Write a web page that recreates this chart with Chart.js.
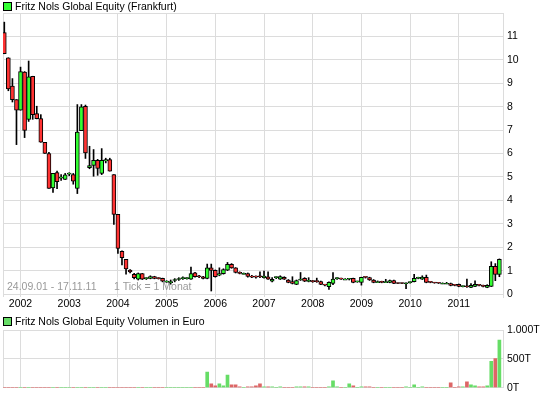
<!DOCTYPE html>
<html>
<head>
<meta charset="utf-8">
<script src="https://cdn.jsdelivr.net/npm/chart.js@4.4.0/dist/chart.umd.min.js"></script>
<style>
  body { margin: 0; background: #fff; }
  #wrap { position: relative; width: 545px; height: 398px; overflow: hidden; font-family: 'Liberation Sans', Arial, sans-serif; }
  canvas { position: absolute; left: 0; }
  #price { top: 0; }
  #vol { top: 315px; }
  .box { position: absolute; left: 3px; width: 7px; height: 7px; border: 1px solid #000; z-index: 2; }
  .leg { position: absolute; left: 15px; font-size: 10.5px; line-height: 12px; color: #000; white-space: nowrap; z-index: 2; }
</style>
</head>
<body>
<div id="wrap">
  <canvas id="price" width="545" height="315"></canvas>
  <canvas id="vol" width="545" height="83"></canvas>
  <span class="box" style="top:2px;background:#33ff33"></span>
  <span class="leg" style="top:0">Fritz Nols Global Equity (Frankfurt)</span>
  <span class="box" style="top:317px;background:#66dd66"></span>
  <span class="leg" style="top:315px">Fritz Nols Global Equity Volumen in Euro</span>
</div>
<script>
// monthly candles, Sep 2001 .. Nov 2011 (index 0 = Sep 2001)
const opens = [
  11.16, 10.09, 8.88, 8.30,
  7.85, 9.48, 7.46, 9.30, 7.71, 7.49, 6.48, 6.00, 4.53, 5.19, 4.95, 4.89,
  5.12, 5.10, 4.51, 6.98, 8.02, 5.40, 5.49, 5.71, 5.15, 5.68, 5.74, 5.10,
  3.40, 1.82, 1.48, 1.02, 0.84, 0.64, 0.87, 0.66, 0.67, 0.75, 0.67, 0.67,
  0.55, 0.53, 0.58, 0.62, 0.66, 0.66, 0.64, 0.91, 0.75, 0.74, 0.67, 1.12,
  1.01, 0.81, 0.87, 1.02, 1.27, 1.12, 0.92, 0.88, 0.87, 0.73, 0.73, 0.75,
  0.70, 0.74, 0.55, 0.70, 0.64, 0.71, 0.60, 0.53, 0.41, 0.60, 0.67, 0.54,
  0.54, 0.54, 0.53, 0.39, 0.31, 0.45, 0.66, 0.65, 0.64, 0.63, 0.67, 0.52,
  0.50, 0.72, 0.70, 0.60, 0.53, 0.51, 0.53, 0.50, 0.58, 0.46, 0.46, 0.44,
  0.49, 0.53, 0.67, 0.64, 0.71, 0.51, 0.48, 0.47, 0.46, 0.46, 0.45, 0.38,
  0.41, 0.32, 0.33, 0.28, 0.33, 0.38, 0.34, 0.28, 0.33, 1.18, 0.84
];
const highs = [
  11.61, 10.09, 9.20, 8.30,
  9.69, 9.50, 9.95, 9.30, 8.02, 7.66, 6.48, 6.05, 5.15, 5.25, 5.10, 5.15,
  5.18, 5.15, 8.09, 8.09, 8.07, 6.31, 6.17, 5.75, 6.21, 5.80, 5.80, 5.10,
  3.40, 1.85, 1.48, 1.05, 0.88, 0.90, 0.88, 0.70, 0.78, 0.76, 0.70, 0.68,
  0.57, 0.60, 0.66, 0.70, 0.74, 0.70, 1.15, 0.93, 0.80, 0.76, 1.28, 1.28,
  1.03, 1.12, 1.08, 1.35, 1.30, 1.13, 0.95, 0.90, 0.90, 0.80, 0.78, 0.95,
  0.98, 0.95, 0.70, 0.74, 0.78, 0.74, 0.62, 0.74, 0.60, 0.92, 0.70, 0.70,
  0.58, 0.68, 0.55, 0.42, 0.52, 0.92, 0.70, 0.68, 0.66, 0.67, 0.68, 0.55,
  0.72, 0.74, 0.72, 0.62, 0.56, 0.55, 0.63, 0.60, 0.60, 0.48, 0.48, 0.48,
  0.52, 0.84, 0.72, 0.78, 0.81, 0.53, 0.50, 0.49, 0.48, 0.50, 0.47, 0.40,
  0.43, 0.35, 0.64, 0.45, 0.56, 0.40, 0.38, 0.40, 1.38, 1.30, 1.50
];
const lows = [
  10.26, 8.68, 8.20, 6.38,
  7.85, 6.68, 7.37, 7.46, 7.48, 6.48, 6.00, 4.51, 4.34, 4.50, 4.85, 4.89,
  5.05, 4.69, 4.29, 6.98, 5.79, 5.35, 5.03, 5.07, 5.10, 5.60, 5.25, 2.97,
  1.74, 1.24, 0.85, 0.90, 0.65, 0.60, 0.62, 0.62, 0.65, 0.65, 0.64, 0.52,
  0.50, 0.42, 0.52, 0.58, 0.62, 0.63, 0.62, 0.72, 0.70, 0.65, 0.65, 0.13,
  0.72, 0.78, 0.85, 1.00, 1.10, 0.90, 0.86, 0.85, 0.72, 0.70, 0.68, 0.70,
  0.68, 0.62, 0.52, 0.66, 0.62, 0.62, 0.48, 0.43, 0.40, 0.58, 0.53, 0.52,
  0.50, 0.50, 0.40, 0.35, 0.20, 0.40, 0.62, 0.62, 0.62, 0.60, 0.48, 0.50,
  0.38, 0.68, 0.58, 0.48, 0.50, 0.48, 0.50, 0.48, 0.44, 0.44, 0.44, 0.23,
  0.46, 0.52, 0.65, 0.62, 0.48, 0.48, 0.46, 0.45, 0.44, 0.44, 0.35, 0.35,
  0.31, 0.30, 0.28, 0.27, 0.32, 0.35, 0.30, 0.27, 0.32, 0.57, 0.74
];
const closes = [
  10.26, 8.76, 8.30, 7.85,
  9.50, 6.99, 9.27, 7.66, 7.49, 6.48, 6.00, 4.51, 5.15, 4.80, 4.98, 5.09,
  5.14, 4.82, 6.92, 7.99, 6.03, 5.49, 5.71, 5.36, 5.71, 5.74, 5.25, 3.40,
  1.95, 1.55, 1.07, 0.95, 0.70, 0.87, 0.64, 0.67, 0.75, 0.67, 0.66, 0.55,
  0.55, 0.53, 0.60, 0.64, 0.67, 0.67, 0.87, 0.74, 0.74, 0.67, 1.12, 1.01,
  0.74, 0.87, 1.05, 1.27, 1.12, 0.92, 0.88, 0.88, 0.75, 0.72, 0.72, 0.74,
  0.77, 0.64, 0.63, 0.71, 0.75, 0.64, 0.50, 0.45, 0.57, 0.62, 0.55, 0.56,
  0.53, 0.53, 0.41, 0.38, 0.50, 0.64, 0.67, 0.64, 0.64, 0.64, 0.50, 0.53,
  0.71, 0.71, 0.60, 0.50, 0.53, 0.50, 0.53, 0.58, 0.45, 0.45, 0.45, 0.46,
  0.50, 0.67, 0.70, 0.72, 0.50, 0.50, 0.47, 0.46, 0.46, 0.46, 0.37, 0.37,
  0.33, 0.33, 0.31, 0.37, 0.41, 0.37, 0.33, 0.37, 1.18, 0.84, 1.48
];
// turnover in thousand euro (T)
const volumes = [
  0, 0, 0, 0,
  0, 0, 0, 0, 0, 0, 0, 0, 0, 0, 0, 0,
  0, 0, 0, 0, 0, 0, 0, 0, 0, 0, 0, 0,
  0, 0, 0, 0, 0, 0, 0, 0, 0, 0, 0, 0,
  0, 0, 0, 0, 0, 0, 0, 0, 0, 0, 270, 67,
  34, 67, 34, 219, 51, 51, 17, 0, 17, 17, 34, 67,
  17, 17, 17, 0, 17, 0, 0, 0, 17, 17, 17, 17,
  0, 0, 0, 0, 17, 118, 17, 0, 0, 67, 34, 0,
  17, 17, 17, 0, 0, 0, 0, 0, 0, 0, 0, 17,
  0, 51, 0, 17, 0, 0, 0, 0, 0, 0, 84, 0,
  17, 17, 101, 51, 34, 17, 17, 34, 455, 506, 826
];
const years = ['2002', '2003', '2004', '2005', '2006', '2007', '2008', '2009', '2010', '2011'];
const yearStart = [4, 16, 28, 40, 52, 64, 76, 88, 100, 112]; // index of January
const priceTicks = [0, 1, 2, 3, 4, 5, 6, 7, 8, 9, 10, 11, 12];
const volumeTicks = [0, 500, 1000];
const rangeText = '24.09.01 - 17.11.11';
const tickText = '1 Tick = 1 Monat';

const up = '#33ff33', down = '#ff3333';
const volUp = '#66dd66', volDown = '#dd6666';
const gridColor = '#dcdcdc';
const font = { family: "'Liberation Sans', Arial, sans-serif", size: 10.5 };

const idx = opens.map((_, i) => i);
const rising = idx.map(i => closes[i] >= opens[i]);

// left frame line, the other sides come from grid and axis border
const leftEdge = {
  id: 'leftEdge',
  beforeDatasetsDraw(chart) {
    const { ctx, chartArea: a } = chart;
    ctx.save();
    ctx.strokeStyle = gridColor;
    ctx.lineWidth = 1;
    ctx.beginPath();
    ctx.moveTo(Math.round(a.left) + 0.5, a.top);
    ctx.lineTo(Math.round(a.left) + 0.5, a.bottom);
    ctx.stroke();
    ctx.restore();
  }
};

const rangeNote = {
  id: 'rangeNote',
  beforeDatasetsDraw(chart) {
    const { ctx, chartArea: a } = chart;
    ctx.save();
    ctx.fillStyle = '#999';
    ctx.font = "10.5px 'Liberation Sans', Arial, sans-serif";
    ctx.textBaseline = 'alphabetic';
    ctx.fillText(rangeText, a.left + 4, a.bottom - 7);
    ctx.fillText(tickText, a.left + 111, a.bottom - 7);
    ctx.restore();
  }
};

function xScale(showLabels, height) {
  return {
    type: 'linear',
    min: -0.32,
    max: 122.89,
    offset: false,
    afterBuildTicks: s => { s.ticks = yearStart.map(v => ({ value: v })); },
    afterFit: s => { s.height = height; },
    ticks: {
      display: showLabels,
      callback: (v, i) => years[i],
      color: '#000',
      font,
      padding: 1,
      autoSkip: false,
      maxRotation: 0
    },
    grid: { color: gridColor, drawTicks: false, offset: false },
    border: { display: false }
  };
}

new Chart(document.getElementById('price'), {
  type: 'bar',
  data: {
    datasets: [
      {
        label: 'Fritz Nols Global Equity (Frankfurt)',
        data: idx.map(i => ({ x: i, y: [opens[i], closes[i]] })),
        backgroundColor: idx.map(i => rising[i] ? up : down),
        borderColor: '#000',
        borderWidth: 1,
        borderSkipped: false,
        barThickness: 4,
        minBarLength: 1,
        grouped: false,
        order: 0
      },
      {
        label: 'wick',
        data: idx.map(i => ({ x: i, y: [lows[i], highs[i]] })),
        backgroundColor: '#000',
        borderWidth: 0,
        barThickness: 1,
        grouped: false,
        order: 1
      }
    ]
  },
  options: {
    responsive: false,
    animation: false,
    events: [],
    layout: { padding: { left: 3, top: 13, right: 0, bottom: 0 } },
    plugins: { legend: { display: false }, tooltip: { enabled: false } },
    scales: {
      x: xScale(true, 18),
      y: {
        position: 'right',
        min: -0.126,
        max: 12,
        afterBuildTicks: s => { s.ticks = priceTicks.map(v => ({ value: v })); },
        afterFit: s => { s.width = 42; },
        ticks: { callback: v => v === 12 ? '' : String(v), color: '#000', font, padding: 4 },
        grid: { color: gridColor, drawTicks: false },
        border: { display: true, color: gridColor }
      }
    }
  },
  plugins: [leftEdge, rangeNote]
});

new Chart(document.getElementById('vol'), {
  type: 'bar',
  data: {
    datasets: [{
      label: 'Fritz Nols Global Equity Volumen in Euro',
      data: idx.map(i => ({ x: i, y: volumes[i] })),
      backgroundColor: idx.map(i => rising[i] ? volUp : volDown),
      borderWidth: 0,
      barThickness: 3,
      grouped: false
    }]
  },
  options: {
    responsive: false,
    animation: false,
    events: [],
    layout: { padding: { left: 3, top: 15, right: 0, bottom: 0 } },
    plugins: { legend: { display: false }, tooltip: { enabled: false } },
    scales: {
      x: xScale(false, 9),
      y: {
        position: 'right',
        min: 0,
        max: 1000,
        afterBuildTicks: s => { s.ticks = volumeTicks.map(v => ({ value: v })); },
        afterFit: s => { s.width = 42; },
        ticks: { callback: v => v.toLocaleString('de-DE') + 'T', color: '#000', font, padding: 4 },
        grid: { color: gridColor, drawTicks: false },
        border: { display: true, color: gridColor }
      }
    }
  },
  plugins: [leftEdge]
});
</script>
</body>
</html>
